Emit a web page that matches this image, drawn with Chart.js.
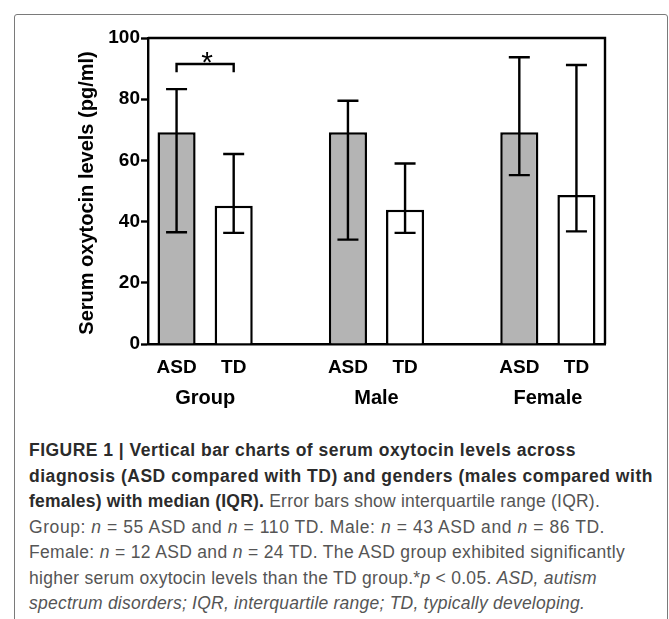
<!DOCTYPE html>
<html>
<head>
<meta charset="utf-8">
<script src="https://cdn.jsdelivr.net/npm/chart.js@4.4.0/dist/chart.umd.min.js"></script>
<style>
  html, body { margin: 0; padding: 0; background: #fff; }
  #page { position: relative; width: 669px; height: 619px; overflow: hidden; }
  #frame { position: absolute; left: 14px; top: 14px; width: 652px; height: 700px; border: 1px solid #7a7a7a; border-radius: 3px; }
  #chartBox { position: absolute; left: 0; top: 0; width: 669px; height: 420px; }
  #caption { position: absolute; left: 29px; top: 438px; font-family: 'Liberation Sans', Arial, sans-serif; font-size: 17.5px; line-height: 25.5px; color: #555; }
  #caption .line { white-space: nowrap; }
  #caption b { color: #2b2b2b; }
</style>
</head>
<body>
<div id="page">
  <div id="frame"></div>
  <div id="chartBox"><canvas id="oxytocinChart"></canvas></div>
  <div id="caption">
    <div class="line" data-w="547"><b>FIGURE 1 | Vertical bar charts of serum oxytocin levels across</b></div>
    <div class="line" data-w="624"><b>diagnosis (ASD compared with TD) and genders (males compared with</b></div>
    <div class="line" data-w="571"><b>females) with median (IQR).</b> Error bars show interquartile range (IQR).</div>
    <div class="line" data-w="576">Group: <i>n</i> = 55 ASD and <i>n</i> = 110 TD. Male: <i>n</i> = 43 ASD and <i>n</i> = 86 TD.</div>
    <div class="line" data-w="596">Female: <i>n</i> = 12 ASD and <i>n</i> = 24 TD. The ASD group exhibited significantly</div>
    <div class="line" data-w="568">higher serum oxytocin levels than the TD group.*<i>p</i> &lt; 0.05. <i>ASD, autism</i></div>
    <div class="line" data-w="556"><i>spectrum disorders; IQR, interquartile range; TD, typically developing.</i></div>
  </div>
</div>
<script>
// Data (median and interquartile range, pg/ml)
const groups = ['Group', 'Male', 'Female'];
const diagnoses = ['ASD', 'TD'];
const asdMedian = [69.2, 69.2, 69.2];
const asdQ1 = [36.5, 34.1, 55.2];
const asdQ3 = [83.3, 79.5, 93.7];
const tdMedian = [45.2, 43.9, 48.7];
const tdQ1 = [36.3, 36.3, 36.8];
const tdQ3 = [62.1, 59.0, 91.2];
const yTicks = [0, 20, 40, 60, 80, 100];
// significance bracket between Group ASD and Group TD
const sigBracket = { group: 0, top: 91.5, drop: 88.8, label: '*' };

// Slots: ASD, TD, gap, ASD, TD, gap, ASD, TD
const slotLabels = [];
const asdData = [];
const tdData = [];
const asdErr = [];
const tdErr = [];
groups.forEach((g, i) => {
    slotLabels.push(diagnoses[0], diagnoses[1]);
    asdData.push(asdMedian[i], null);
    tdData.push(null, tdMedian[i]);
    asdErr.push([asdQ1[i], asdQ3[i]], null);
    tdErr.push(null, [tdQ1[i], tdQ3[i]]);
    if (i < groups.length - 1) {
        slotLabels.push('');
        asdData.push(null);
        tdData.push(null);
        asdErr.push(null);
        tdErr.push(null);
    }
});

const FONT = "'Liberation Sans', Arial, sans-serif";

const extrasPlugin = {
    id: 'extras',
    afterDatasetsDraw(chart) {
        const ctx = chart.ctx;
        const area = chart.chartArea;
        const x = chart.scales.x;
        const y = chart.scales.y;
        ctx.save();
        ctx.strokeStyle = '#000';
        ctx.lineWidth = 2.4;

        // error bars
        [asdErr, tdErr].forEach((errs, d) => {
            const meta = chart.getDatasetMeta(d);
            errs.forEach((e, j) => {
                if (!e) return;
                const px = meta.data[j].x;
                const lo = y.getPixelForValue(e[0]);
                const hi = y.getPixelForValue(e[1]);
                ctx.beginPath();
                ctx.moveTo(px, lo); ctx.lineTo(px, hi);
                ctx.moveTo(px - 10.5, lo); ctx.lineTo(px + 10.5, lo);
                ctx.moveTo(px - 10.5, hi); ctx.lineTo(px + 10.5, hi);
                ctx.stroke();
            });
        });

        // top and right frame
        ctx.beginPath();
        ctx.moveTo(area.left, area.top);
        ctx.lineTo(area.right, area.top);
        ctx.lineTo(area.right, area.bottom);
        ctx.stroke();

        // significance bracket
        const x1 = x.getPixelForValue(sigBracket.group * 3);
        const x2 = x.getPixelForValue(sigBracket.group * 3 + 1);
        const yt = y.getPixelForValue(sigBracket.top);
        const yd = y.getPixelForValue(sigBracket.drop);
        ctx.beginPath();
        ctx.moveTo(x1, yd); ctx.lineTo(x1, yt); ctx.lineTo(x2, yt); ctx.lineTo(x2, yd);
        ctx.stroke();
        ctx.fillStyle = '#000';
        ctx.font = '30px ' + FONT;
        ctx.textAlign = 'center';
        ctx.textBaseline = 'alphabetic';
        ctx.fillText(sigBracket.label, (x1 + x2) / 2 + 2, yt + 8);

        // group labels under the diagnosis labels
        ctx.font = 'bold 20px ' + FONT;
        ctx.textBaseline = 'middle';
        groups.forEach((g, i) => {
            const cx = (x.getPixelForValue(i * 3) + x.getPixelForValue(i * 3 + 1)) / 2;
            ctx.fillText(g, cx, area.bottom + 54);
        });

        // y axis title
        ctx.translate(87, (area.top + area.bottom) / 2 + 2);
        ctx.rotate(-Math.PI / 2);
        ctx.font = 'bold 20px ' + FONT;
        ctx.fillText('Serum oxytocin levels (pg/ml)', 0, 0);
        ctx.restore();
    }
};

const ctx = document.getElementById('oxytocinChart').getContext('2d');
new Chart(ctx, {
    type: 'bar',
    data: {
        labels: slotLabels,
        datasets: [{
            label: 'ASD',
            data: asdData,
            backgroundColor: '#b4b4b4',
            borderColor: '#000',
            borderWidth: 2.5
        }, {
            label: 'TD',
            data: tdData,
            backgroundColor: '#fff',
            borderColor: '#000',
            borderWidth: 2.5
        }]
    },
    options: {
        responsive: true,
        maintainAspectRatio: false,
        animation: false,
        grouped: false,
        barPercentage: 0.667,
        categoryPercentage: 1,
        layout: { padding: { left: 0, right: 64, top: 38, bottom: 0 } },
        plugins: {
            legend: { display: false },
            tooltip: { enabled: false }
        },
        scales: {
            x: {
                grid: { display: false },
                border: { display: true, color: '#000', width: 2.4 },
                ticks: {
                    color: '#000',
                    font: { family: FONT, size: 19, weight: 'bold' },
                    padding: 4,
                    autoSkip: false,
                    maxRotation: 0
                },
                afterFit(scale) { scale.height = 76; }
            },
            y: {
                min: yTicks[0],
                max: yTicks[yTicks.length - 1],
                afterBuildTicks(scale) { scale.ticks = yTicks.map(v => ({ value: v })); },
                grid: { drawOnChartArea: false, drawTicks: true, tickLength: 7, tickWidth: 2.4, tickColor: '#000' },
                border: { display: true, color: '#000', width: 2.4 },
                ticks: {
                    color: '#000',
                    font: { family: FONT, size: 19, weight: 'bold' },
                    padding: 1
                },
                afterFit(scale) { scale.width = 148; }
            }
        }
    },
    plugins: [extrasPlugin]
});

// stretch caption lines to the widths measured in the figure
document.querySelectorAll('#caption .line').forEach(line => {
    const target = parseFloat(line.dataset.w);
    const span = document.createElement('span');
    span.innerHTML = line.innerHTML;
    line.innerHTML = '';
    line.appendChild(span);
    const w = span.getBoundingClientRect().width;
    const n = span.textContent.length;
    line.style.letterSpacing = ((target - w) / n).toFixed(3) + 'px';
});
</script>
</body>
</html>
